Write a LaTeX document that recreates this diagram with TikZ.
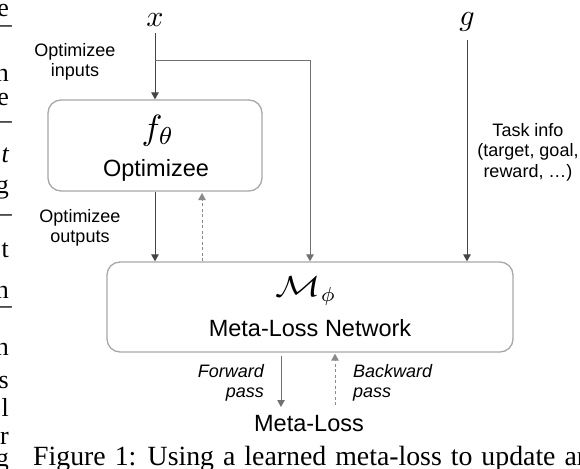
\documentclass[tikz,border=0pt]{standalone}
\usepackage{graphicx}
\usepackage{fontspec}
\setmainfont{Liberation Sans}
\newfontfamily\capfont{Liberation Serif}
\usetikzlibrary{arrows.meta,calc}
\definecolor{boxgray}{HTML}{A8A8A8}
\definecolor{darkline}{HTML}{454545}
\definecolor{midline}{HTML}{707070}
\definecolor{dashline}{HTML}{8A8A8A}
\tikzset{
  blk/.style={draw=boxgray, line width=1.3pt, rounded corners=13pt, inner sep=0pt},
  arr/.style={-{Triangle[length=7pt,width=7.5pt]}, draw=darkline, line width=1pt},
  arrmid/.style={arr, draw=midline},
  darr/.style={-{Triangle[length=7pt,width=7.5pt]}, draw=dashline, line width=1pt, dash pattern=on 3pt off 2.5pt},
  mathlbl/.style={inner sep=0pt, font=\fontsize{10}{12}\selectfont},
  bigtxt/.style={inner sep=0pt, font=\fontsize{23.5}{26}\selectfont},
  smalltxt/.style={inner sep=0pt, font=\fontsize{18}{20.5}\selectfont, align=center},
  captxt/.style={inner sep=0pt, font=\capfont\fontsize{27.8}{30}\selectfont},
  edgetxt/.style={inner sep=0pt, anchor=east, font=\capfont\fontsize{26}{28}\selectfont}
}
\begin{document}
\begin{tikzpicture}[x=1pt,y=-1pt]
\useasboundingbox (0,0) rectangle (580,468);
% boxes
\node[blk, minimum width=214pt, minimum height=91pt] (opt) at (155,145.5) {};
\node[blk, minimum width=406pt, minimum height=90pt] (meta) at (310,307) {};
% box texts
\node[mathlbl] (ftheta) at (158,131) {\scalebox{3.5}{$f_\theta$}};
\node[bigtxt] (optlbl) at (156,170) {Optimizee};
\node[mathlbl] (mphi) at (306,291) {\scalebox{2.9}{$\scalebox{1.3}[1]{$\mathcal{M}$}_\phi$}};
\node[bigtxt] (metalbl) at (310,328) {Meta-Loss Network};
% inputs
\node[mathlbl] (x) at (155,20) {\scalebox{3}{$x$}};
\node[mathlbl] (g) at (467,22) {\scalebox{3}{$g$}};
\node[bigtxt] (loss) at (309,424) {Meta-Loss};
% side labels
\node[smalltxt] (inlbl) at (75,62) {Optimizee\\inputs};
\node[smalltxt] (outlbl) at (80,228) {Optimizee\\outputs};
\node[smalltxt] (tasklbl) at (528,152) {Task info\\(target, goal,\\reward, \dots)};
\node[smalltxt, anchor=east, align=right, font=\fontsize{18}{20.5}\selectfont\itshape] (fwlbl) at (264,383) {Forward\\pass};
\node[smalltxt, anchor=west, align=left, font=\fontsize{18}{20.5}\selectfont\itshape] (bwlbl) at (353,383) {Backward\\pass};
% connectors
\coordinate (br) at (155,61);
\coordinate (xs) at (155,33);
\coordinate (gs) at (467,40);
\draw[arr] (xs) -- (opt.north);
\draw[arrmid] (br) -| (meta.north);
\draw[arr] (gs) -- (gs |- meta.north);
\draw[arr] (opt.south) -- (opt.south |- meta.north);
\coordinate (bp) at (202,193);
\draw[darr] (bp |- meta.north) -- (bp);
\coordinate (fw) at (281,407);
\draw[arrmid] ($(fw |- meta.south)+(0,3)$) -- (fw);
\coordinate (bw) at (335,405);
\draw[darr] (bw) -- ($(bw |- meta.south)+(0,1)$);
% caption and edge of neighbouring column
\node[captxt, anchor=base west] (cap) at (33,465) {\spaceskip=9pt\relax Figure 1: Using a learned meta-loss to update an};
\node[edgetxt] (e1) at (9,11) {e};
\node[edgetxt] (e2) at (12,29) {–};
\node[edgetxt] (e3) at (9,75) {n};
\node[edgetxt] (e4) at (9,100) {e};
\node[edgetxt] (e5) at (12,125) {–};
\node[edgetxt] (e6) at (9,155) {\itshape t};
\node[edgetxt] (e7) at (9,190) {g};
\node[edgetxt] (e8) at (12,218) {–};
\node[edgetxt] (e9) at (9,250) {t};
\node[edgetxt] (e10) at (9,292) {n};
\node[edgetxt] (e11) at (12,310) {–};
\node[edgetxt] (e12) at (9,349) {n};
\node[edgetxt] (e13) at (9,382) {s};
\node[edgetxt] (e14) at (9,407) {l};
\node[edgetxt] (e15) at (9,438) {r};
\node[edgetxt] (e16) at (9,463) {g};
\end{tikzpicture}
\end{document}
